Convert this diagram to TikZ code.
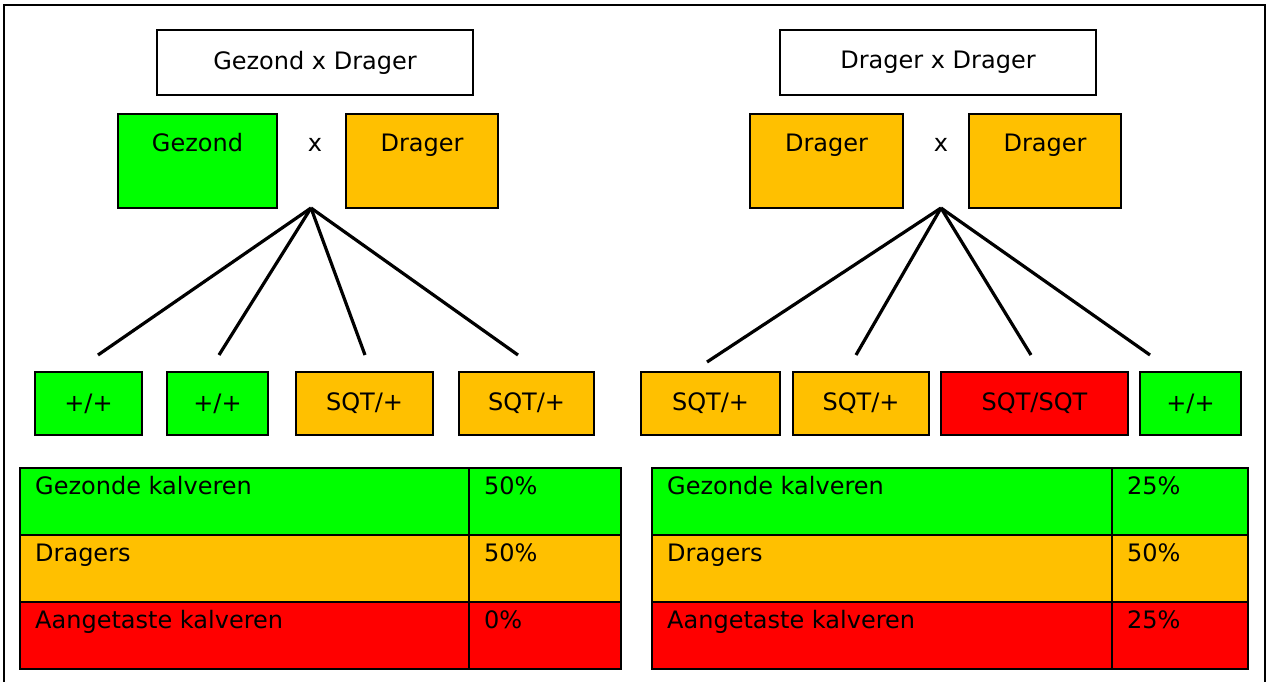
\documentclass[tikz,border=0pt]{standalone}
\usepackage{fontspec}
\setmainfont{DejaVu Sans}
\definecolor{gezond}{HTML}{00FF00}
\definecolor{drager}{HTML}{FFC000}
\definecolor{ziek}{HTML}{FF0000}
\begin{document}
\begin{tikzpicture}[x=1pt,y=-1pt,
  box/.style={draw=black, line width=2.5pt, inner sep=0pt, outer sep=0pt, anchor=north west},
  lbl/.style={inner sep=0pt, font=\fontsize{24}{28}\selectfont},
  fan/.style={line width=3.2pt, black}]
\useasboundingbox (0,0) rectangle (1266,682);
% outer frame
\coordinate (fbl) at (4,682);
\coordinate (ftl) at (4,5);
\coordinate (ftr) at (1265,5);
\coordinate (fbr) at (1265,682);
\draw[line width=2.5pt] (fbl) -- (ftl) -- (ftr) -- (fbr);

% ---------- left cross: Gezond x Drager ----------
\node[box, minimum width=316pt, minimum height=65pt] (titleL) at (157,30) {};
\node[lbl] at (titleL.center) {Gezond x Drager};
\node[box, fill=gezond, minimum width=159pt, minimum height=94pt] (pL1) at (118,114) {};
\node[lbl, anchor=base] at ([yshift=-38pt]pL1.north) {Gezond};
\node[lbl] (xL) at (315,145) {x};
\node[box, fill=drager, minimum width=152pt, minimum height=94pt] (pL2) at (346,114) {};
\node[lbl, anchor=base] at ([yshift=-38pt]pL2.north) {Drager};

\node[box, fill=gezond, minimum width=107pt, minimum height=63pt] (gL1) at (35,372) {};
\node[lbl] at (gL1.center) {+/+};
\node[box, fill=gezond, minimum width=101pt, minimum height=63pt] (gL2) at (167,372) {};
\node[lbl] at (gL2.center) {+/+};
\node[box, fill=drager, minimum width=137pt, minimum height=63pt] (gL3) at (296,372) {};
\node[lbl] at (gL3.center) {SQT/+};
\node[box, fill=drager, minimum width=135pt, minimum height=63pt] (gL4) at (459,372) {};
\node[lbl] at (gL4.center) {SQT/+};

\coordinate (apexL) at (311,208);
\coordinate (eL1) at (98,355);
\coordinate (eL2) at (219,355);
\coordinate (eL3) at (365,355);
\coordinate (eL4) at (518,355);
\foreach \e in {eL1,eL2,eL3,eL4} \draw[fan] (apexL) -- (\e);

% ---------- right cross: Drager x Drager ----------
\node[box, minimum width=316pt, minimum height=65pt] (titleR) at (780,30) {};
\node[lbl] at (titleR.center) {Drager x Drager};
\node[box, fill=drager, minimum width=153pt, minimum height=94pt] (pR1) at (750,114) {};
\node[lbl, anchor=base] at ([yshift=-38pt]pR1.north) {Drager};
\node[lbl] (xR) at (941,145) {x};
\node[box, fill=drager, minimum width=152pt, minimum height=94pt] (pR2) at (969,114) {};
\node[lbl, anchor=base] at ([yshift=-38pt]pR2.north) {Drager};

\node[box, fill=drager, minimum width=139pt, minimum height=63pt] (gR1) at (641,372) {};
\node[lbl] at (gR1.center) {SQT/+};
\node[box, fill=drager, minimum width=136pt, minimum height=63pt] (gR2) at (793,372) {};
\node[lbl] at (gR2.center) {SQT/+};
\node[box, fill=ziek, minimum width=187pt, minimum height=63pt] (gR3) at (941,372) {};
\node[lbl] at (gR3.center) {SQT/SQT};
\node[box, fill=gezond, minimum width=101pt, minimum height=63pt] (gR4) at (1140,372) {};
\node[lbl] at (gR4.center) {+/+};

\coordinate (apexR) at (941,208);
\coordinate (eR1) at (707,362);
\coordinate (eR2) at (856,355);
\coordinate (eR3) at (1031,355);
\coordinate (eR4) at (1150,355);
\foreach \e in {eR1,eR2,eR3,eR4} \draw[fan] (apexR) -- (\e);

% ---------- result tables ----------
\foreach \side/\xa/\wa/\xb/\wb/\pa/\pb/\pc in
  {L/20/449/469/152/50\%/50\%/0\%, R/652/460/1112/136/25\%/50\%/25\%} {
  \node[box, fill=gezond, minimum width=\wa pt, minimum height=67pt] (t\side a1) at (\xa,468) {};
  \node[box, fill=gezond, minimum width=\wb pt, minimum height=67pt] (t\side b1) at (\xb,468) {};
  \node[box, fill=drager, minimum width=\wa pt, minimum height=67pt] (t\side a2) at (\xa,535) {};
  \node[box, fill=drager, minimum width=\wb pt, minimum height=67pt] (t\side b2) at (\xb,535) {};
  \node[box, fill=ziek, minimum width=\wa pt, minimum height=67pt] (t\side a3) at (\xa,602) {};
  \node[box, fill=ziek, minimum width=\wb pt, minimum height=67pt] (t\side b3) at (\xb,602) {};
  \node[lbl, anchor=base west] at ([xshift=15pt,yshift=-26pt]t\side a1.north west) {Gezonde kalveren};
  \node[lbl, anchor=base west] at ([xshift=15pt,yshift=-26pt]t\side a2.north west) {Dragers};
  \node[lbl, anchor=base west] at ([xshift=15pt,yshift=-26pt]t\side a3.north west) {Aangetaste kalveren};
  \node[lbl, anchor=base west] at ([xshift=15pt,yshift=-26pt]t\side b1.north west) {\pa};
  \node[lbl, anchor=base west] at ([xshift=15pt,yshift=-26pt]t\side b2.north west) {\pb};
  \node[lbl, anchor=base west] at ([xshift=15pt,yshift=-26pt]t\side b3.north west) {\pc};
}
\end{tikzpicture}
\end{document}
